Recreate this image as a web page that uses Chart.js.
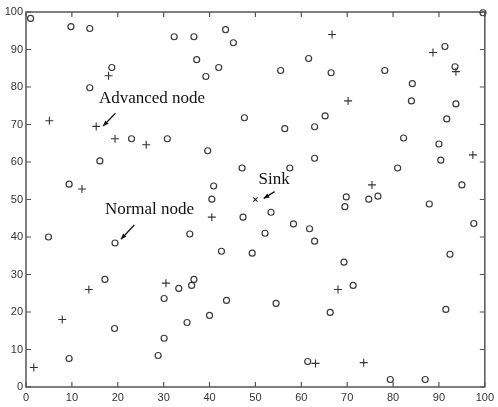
<!DOCTYPE html>
<html>
<head>
<meta charset="utf-8">
<script src="https://cdn.jsdelivr.net/npm/chart.js@4.4.1/dist/chart.umd.min.js"></script>
<style>
  html, body { margin: 0; padding: 0; background: #fff; }
  #wrap { width: 498px; height: 407px; }
</style>
</head>
<body>
<div id="wrap"><canvas id="chart"></canvas></div>
<script>
// node positions
const normalX = [1.0, 9.8, 13.9, 32.3, 36.6, 43.5, 45.2, 99.6, 18.7, 13.9, 37.2, 39.2, 42.0, 55.5, 61.6, 66.5, 78.2, 84.2, 84.0, 91.3,
  93.5, 93.7, 91.7, 47.6, 56.4, 62.9, 65.2, 23.0, 30.8, 82.3, 16.1, 39.6, 47.1, 57.5, 62.9, 90.0, 90.4, 81.0, 9.4, 40.9,
  40.5, 47.3, 53.4, 58.3, 61.8, 62.9, 69.8, 69.5, 74.7, 76.7, 95.0, 87.9, 97.6, 92.4, 4.9, 19.4, 35.7, 52.1, 42.6, 49.3,
  69.3, 17.2, 30.1, 33.3, 36.1, 36.6, 43.7, 54.5, 40.0, 35.1, 30.1, 28.8, 71.3, 66.3, 91.5, 61.4, 9.4, 19.3, 79.4, 87.0];
const normalY = [98.3, 96.1, 95.6, 93.4, 93.4, 95.3, 91.8, 99.8, 85.2, 79.8, 87.3, 82.8, 85.2, 84.4, 87.6, 83.8, 84.4, 80.9, 76.3, 90.8,
  85.4, 75.5, 71.5, 71.8, 68.9, 69.4, 72.3, 66.2, 66.2, 66.4, 60.3, 63.0, 58.4, 58.4, 61.0, 64.8, 60.5, 58.4, 54.1, 53.6,
  50.1, 45.3, 46.6, 43.5, 42.2, 38.9, 50.7, 48.1, 50.1, 50.9, 53.9, 48.8, 43.6, 35.4, 40.0, 38.4, 40.8, 41.0, 36.2, 35.7,
  33.3, 28.7, 23.6, 26.3, 27.1, 28.7, 23.1, 22.3, 19.1, 17.2, 13.0, 8.4, 27.1, 19.9, 20.7, 6.8, 7.6, 15.6, 2.0, 2.0];

const advancedX = [5.1, 18.0, 15.3, 19.4, 26.2, 12.2, 40.5, 66.7, 70.2, 75.4, 88.7, 93.7, 97.4, 68.0, 73.6, 63.1, 30.5, 13.7, 7.9, 1.7];
const advancedY = [71.0, 83.0, 69.5, 66.2, 64.6, 52.8, 45.3, 94.0, 76.3, 53.9, 89.2, 84.1, 61.9, 26.0, 6.5, 6.3, 27.7, 26.0, 18.0, 5.2];

const sinkX = [50];
const sinkY = [50];

const axisTicks = [0, 10, 20, 30, 40, 50, 60, 70, 80, 90, 100];

// callouts: label text, label position, arrow start and end (data units)
const noteText = ["Advanced node", "Normal node", "Sink"];
const noteAt = [[15.9, 77.0], [17.2, 47.4], [50.7, 55.3]];
const arrowFrom = [[19.5, 73.0], [23.6, 43.2], [54.2, 52.1]];
const arrowTo = [[16.8, 69.6], [20.7, 39.4], [51.8, 50.3]];

function pairs(xs, ys) {
  return xs.map((x, i) => ({ x: x, y: ys[i] }));
}

const frame = {
  id: "frame",
  afterDraw(chart) {
    const ctx = chart.ctx;
    const a = chart.chartArea;
    const sx = chart.scales.x, sy = chart.scales.y;
    ctx.save();
    ctx.strokeStyle = "#555";
    ctx.lineWidth = 1.5;
    ctx.strokeRect(a.left, a.top, a.right - a.left, a.bottom - a.top);
    ctx.lineWidth = 1.2;
    ctx.beginPath();
    axisTicks.forEach(v => {
      const px = sx.getPixelForValue(v);
      ctx.moveTo(px, a.bottom); ctx.lineTo(px, a.bottom - 5);
      ctx.moveTo(px, a.top); ctx.lineTo(px, a.top + 5);
      const py = sy.getPixelForValue(v);
      ctx.moveTo(a.left, py); ctx.lineTo(a.left + 5, py);
      ctx.moveTo(a.right, py); ctx.lineTo(a.right - 5, py);
    });
    ctx.stroke();

    // callouts
    ctx.fillStyle = "#111";
    ctx.strokeStyle = "#111";
    ctx.font = "17px 'Liberation Serif', 'Times New Roman', serif";
    ctx.textBaseline = "middle";
    ctx.textAlign = "left";
    noteText.forEach((t, i) => {
      ctx.fillText(t, sx.getPixelForValue(noteAt[i][0]), sy.getPixelForValue(noteAt[i][1]));
      const x1 = sx.getPixelForValue(arrowFrom[i][0]), y1 = sy.getPixelForValue(arrowFrom[i][1]);
      const x2 = sx.getPixelForValue(arrowTo[i][0]), y2 = sy.getPixelForValue(arrowTo[i][1]);
      const ang = Math.atan2(y2 - y1, x2 - x1);
      ctx.lineWidth = 1.2;
      ctx.beginPath();
      ctx.moveTo(x1, y1);
      ctx.lineTo(x2, y2);
      ctx.stroke();
      ctx.beginPath();
      ctx.moveTo(x2, y2);
      ctx.lineTo(x2 - 6 * Math.cos(ang - 0.4), y2 - 6 * Math.sin(ang - 0.4));
      ctx.lineTo(x2 - 6 * Math.cos(ang + 0.4), y2 - 6 * Math.sin(ang + 0.4));
      ctx.closePath();
      ctx.fill();
    });
    ctx.restore();
  }
};

new Chart(document.getElementById("chart"), {
  type: "scatter",
  data: {
    datasets: [
      {
        label: "Normal node",
        data: pairs(normalX, normalY),
        pointStyle: "circle",
        pointRadius: 3,
        borderColor: "#3a3a3a",
        backgroundColor: "rgba(0,0,0,0)",
        borderWidth: 1.2,
        clip: false
      },
      {
        label: "Advanced node",
        data: pairs(advancedX, advancedY),
        pointStyle: "cross",
        pointRadius: 4,
        borderColor: "#333",
        borderWidth: 1.1,
        clip: false
      },
      {
        label: "Sink",
        data: pairs(sinkX, sinkY),
        pointStyle: "crossRot",
        pointRadius: 3,
        borderColor: "#222",
        borderWidth: 1.1,
        clip: false
      }
    ]
  },
  options: {
    responsive: true,
    maintainAspectRatio: false,
    animation: false,
    layout: { padding: { top: 12, right: 8, left: 0, bottom: 0 } },
    plugins: {
      legend: { display: false },
      tooltip: { enabled: false }
    },
    scales: {
      x: {
        min: 0,
        max: 100,
        afterFit: s => { s.height = 20; },
        afterBuildTicks: s => { s.ticks = axisTicks.map(v => ({ value: v })); },
        grid: { display: false, drawTicks: false },
        border: { display: false },
        ticks: {
          padding: 4,
          color: "#333",
          font: { family: "'Liberation Sans', Arial, sans-serif", size: 11 },
          maxRotation: 0
        }
      },
      y: {
        min: 0,
        max: 100,
        afterFit: s => { s.width = 26; },
        afterBuildTicks: s => { s.ticks = axisTicks.map(v => ({ value: v })); },
        grid: { display: false, drawTicks: false },
        border: { display: false },
        ticks: {
          padding: 3,
          color: "#333",
          font: { family: "'Liberation Sans', Arial, sans-serif", size: 11 }
        }
      }
    }
  },
  plugins: [frame]
});
</script>
</body>
</html>
